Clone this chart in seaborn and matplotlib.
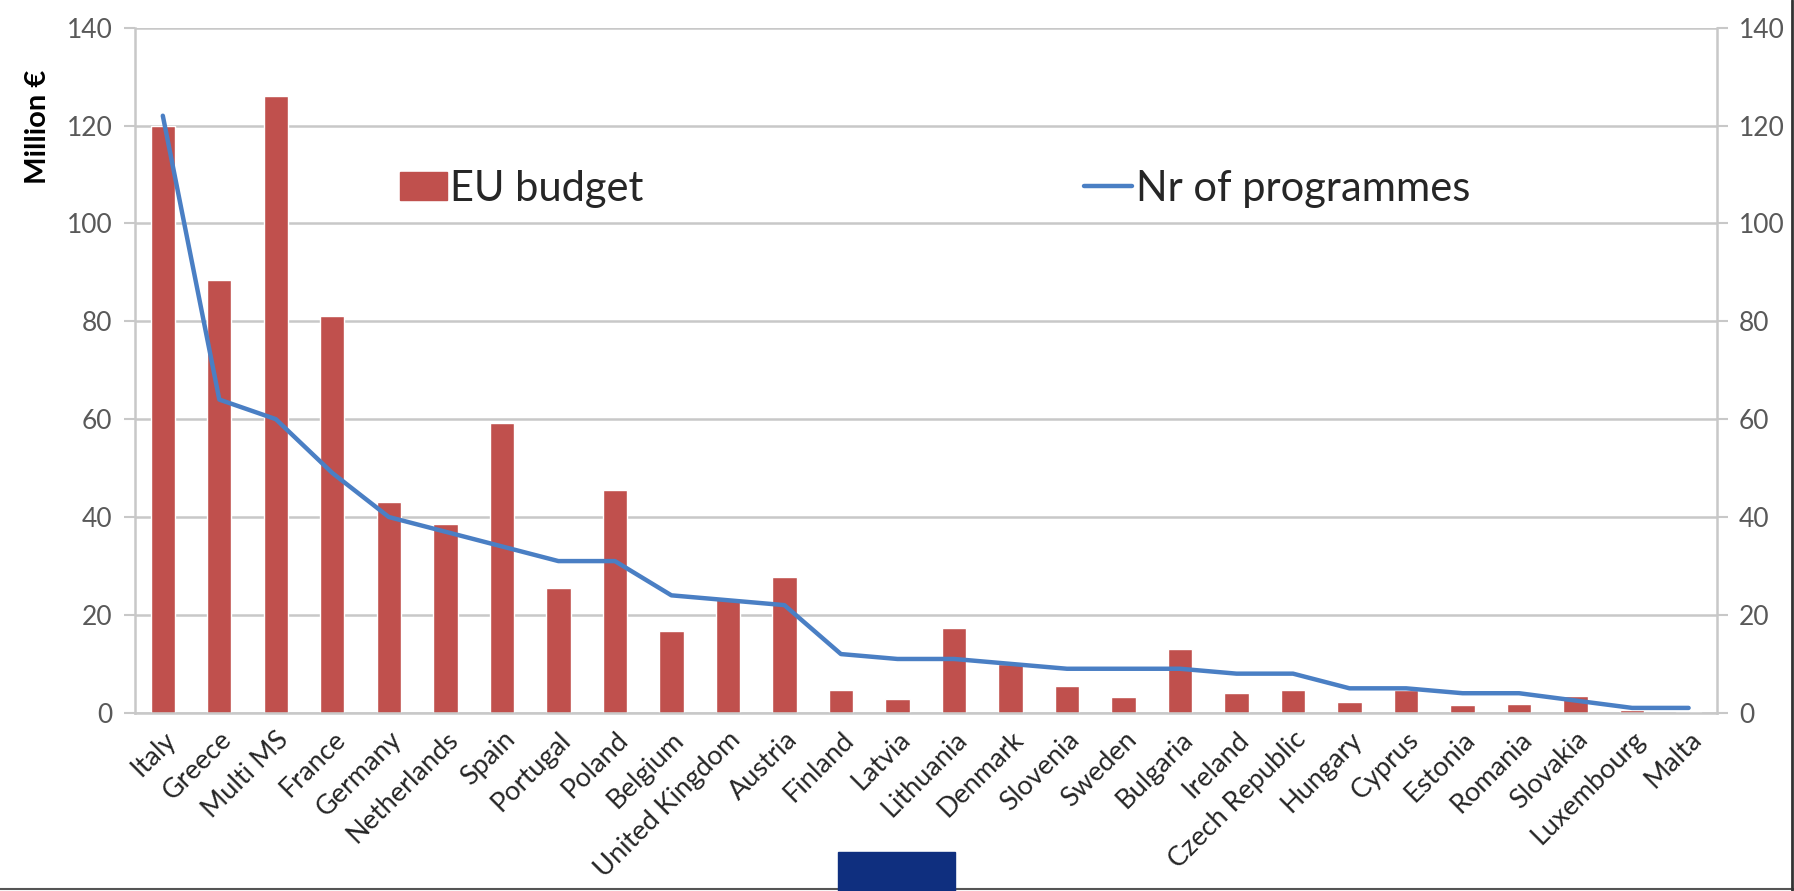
import numpy as np
import pandas as pd
import matplotlib
matplotlib.use("Agg")
import matplotlib.pyplot as plt
import matplotlib.patches as mpatches
from matplotlib.lines import Line2D
import seaborn as sns

countries = ["Italy", "Greece", "Multi MS", "France", "Germany", "Netherlands", "Spain",
             "Portugal", "Poland", "Belgium", "United Kingdom", "Austria", "Finland", "Latvia",
             "Lithuania", "Denmark", "Slovenia", "Sweden", "Bulgaria", "Ireland",
             "Czech Republic", "Hungary", "Cyprus", "Estonia", "Romania", "Slovakia",
             "Luxembourg", "Malta"]
eu_budget = [120, 88.5, 126, 81, 43, 38.6, 59.3, 25.5, 45.6, 16.8, 23.2, 27.8, 4.7, 2.8,
             17.3, 10, 5.4, 3.3, 13.1, 4, 4.7, 2.3, 4.7, 1.6, 1.9, 3.5, 0.5, 0.2]
nr_programmes = [122, 64, 60, 49, 40, 37, 34, 31, 31, 24, 23, 22, 12, 11, 11, 10, 9, 9, 9,
                 8, 8, 5, 5, 4, 4, 2.5, 1, 1]
yticks = [0, 20, 40, 60, 80, 100, 120, 140]

sns.set_theme(style="white")
plt.rcParams['font.family'] = ['Lato', 'DejaVu Sans']

BAR = "#c0504d"
LINE = "#4a7fc4"
GRID = "#c8c8c8"
TICKC = "#595959"

fig = plt.figure(figsize=(17.94, 8.91), dpi=100)
ax = fig.add_axes([0.075, 0.2, 0.882, 0.769])

df = pd.DataFrame({"country": countries, "budget": eu_budget})
sns.barplot(data=df, x="country", y="budget", color=BAR, saturation=1, width=0.43, ax=ax)

ax.set_ylim(0, 140)
ax.set_xlim(-0.5, len(countries) - 0.5)
ax.set_yticks(yticks)
ax.set_yticklabels([str(t) for t in yticks], fontsize=19, color=TICKC)
ax.yaxis.grid(True, color=GRID, linewidth=1.8)
ax.set_axisbelow(True)
ax.set_xlabel("")
ax.set_ylabel("Million €", fontsize=21, fontweight="bold", color="black")
ax.yaxis.set_label_coords(-0.053, 0.855)

ax.set_xticks(range(len(countries)))
ax.set_xticklabels(countries, rotation=45, ha="right", rotation_mode="anchor",
                   fontsize=19.5, color="#262626")
ax.tick_params(axis="x", which="major", length=0, pad=10)
ax.set_xticks(np.arange(-0.5, len(countries), 1.0), minor=True)
ax.tick_params(axis="x", which="minor", length=7, color=GRID, width=1.5, direction="out")
ax.tick_params(axis="y", length=8, color=GRID, width=1.5, direction="out", pad=8)

for s in ["left", "right", "bottom"]:
    ax.spines[s].set_color(GRID)
    ax.spines[s].set_linewidth(1.8)
ax.spines["top"].set_visible(False)

ax2 = ax.twinx()
sns.lineplot(x=np.arange(len(countries)), y=nr_programmes, color=LINE, linewidth=3.2, ax=ax2)
ax2.set_ylim(0, 140)
ax2.set_yticks(yticks)
ax2.set_yticklabels([str(t) for t in yticks], fontsize=19, color=TICKC)
ax2.tick_params(axis="y", length=8, color=GRID, width=1.5, direction="out", pad=8)
for s in ["left", "right", "bottom", "top"]:
    ax2.spines[s].set_visible(False)
ax2.set_xlim(-0.5, len(countries) - 0.5)

h1 = mpatches.Patch(color=BAR, label="EU budget")
leg1 = ax2.legend(handles=[h1], loc="center left", bbox_to_anchor=(0.168, 0.765),
                  frameon=False, fontsize=30, handlelength=1.13, handleheight=0.67,
                  handletextpad=0.05, borderaxespad=0, borderpad=0)
ax2.add_artist(leg1)
h2 = Line2D([0], [0], color=LINE, linewidth=3.2, label="Nr of programmes")
ax2.legend(handles=[h2], loc="center left", bbox_to_anchor=(0.6, 0.765),
           frameon=False, fontsize=30, handlelength=1.15, handletextpad=0.1,
           borderaxespad=0, borderpad=0)

# decorative blue block and frame edges at bottom
fig.patches.append(mpatches.Rectangle((838 / 1794, 0), 117 / 1794, 39 / 891,
                                      transform=fig.transFigure, color="#0f2f7f", zorder=5))
fig.add_artist(Line2D([0, 1], [0.002, 0.002], transform=fig.transFigure, color="#555555", linewidth=1.5))
fig.add_artist(Line2D([0.999, 0.999], [0, 1], transform=fig.transFigure, color="#333333", linewidth=2))

fig.savefig("out.png", dpi=100)
